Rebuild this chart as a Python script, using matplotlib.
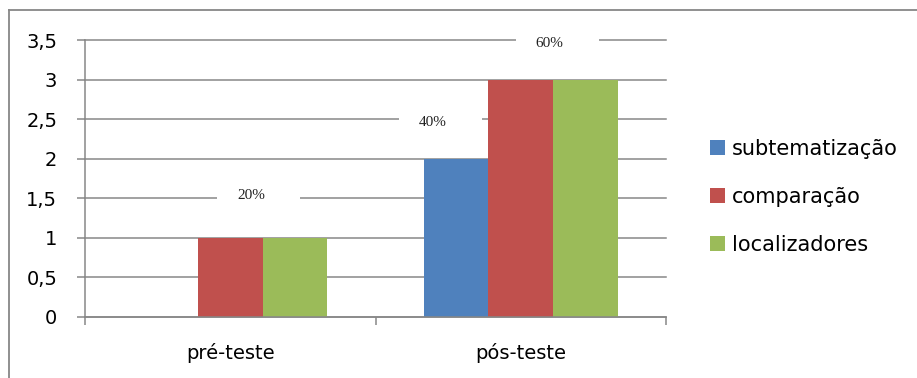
import matplotlib
matplotlib.use("Agg")
import matplotlib.pyplot as plt
from matplotlib.patches import Rectangle
from matplotlib.lines import Line2D
import numpy as np

categories = ["pré-teste", "pós-teste"]
series_names = ["subtematização", "comparação", "localizadores"]
subtematizacao = [0, 2]
comparacao = [1, 3]
localizadores = [1, 3]
series_values = [subtematizacao, comparacao, localizadores]
colors = ["#4F81BD", "#C0504D", "#9BBB59"]

y_ticks = [0, 0.5, 1, 1.5, 2, 2.5, 3, 3.5]
y_tick_labels = ["0", "0,5", "1", "1,5", "2", "2,5", "3", "3,5"]

# percentage notes and where they sit (data coordinates)
note_texts = ["20%", "40%", "60%"]
note_x = [0.072, 0.697, 1.10]
note_y = [1.53, 2.455, 3.46]

W, H = 917, 378
fig = plt.figure(figsize=(W / 100, H / 100), dpi=100)
plt.rcParams["font.family"] = ["DejaVu Sans"]

ax = fig.add_axes([85 / W, 1 - 317 / H, 581 / W, 277 / H])

n = len(series_values)
bar_w = 1 / 4.5
x = np.arange(len(categories))
for i, (vals, name, c) in enumerate(zip(series_values, series_names, colors)):
    offs = (i - (n - 1) / 2) * bar_w
    ax.bar(x + offs, vals, width=bar_w, color=c, label=name, zorder=3)

ax.set_xlim(-0.5, len(categories) - 0.5)
ax.set_ylim(0, 3.5)
ax.set_yticks(y_ticks)
ax.set_yticklabels(y_tick_labels, fontsize=14, color="black")
ax.yaxis.grid(True, color="#878787", linewidth=1.1, zorder=0)
ax.set_axisbelow(True)
for gl in ax.get_ygridlines():
    gl.set_clip_on(False)

# category labels at centres, tick marks at group boundaries
ax.set_xticks(x)
ax.set_xticklabels(categories, fontsize=14, color="black")
ax.set_xticks(np.arange(len(categories) + 1) - 0.5, minor=True)
ax.tick_params(axis="x", which="major", length=0, pad=19)
ax.tick_params(axis="x", which="minor", length=6, width=1.1, color="#878787")
ax.tick_params(axis="y", length=6, width=1.1, color="#878787", pad=14)

for side in ["top", "right"]:
    ax.spines[side].set_visible(False)
for side in ["left", "bottom"]:
    ax.spines[side].set_color("#878787")
    ax.spines[side].set_linewidth(1.1)
    ax.spines[side].set_zorder(4)

# percentage notes on white boxes that hide the gridline behind them
px_x = 290.0
px_y = 277 / 3.5
box_w = 83 / px_x
box_h = 26 / px_y
for t, nx, ny in zip(note_texts, note_x, note_y):
    cx = nx + 7.5 / px_x
    ax.add_patch(Rectangle((cx - box_w / 2, ny - box_h / 2), box_w, box_h,
                           facecolor="white", edgecolor="none", zorder=2,
                           clip_on=False))
    ax.text(nx, ny, t, ha="center", va="center", fontsize=11,
            family=["Liberation Serif"], color="#222222", zorder=5)

fig.legend(loc="center left", bbox_to_anchor=(710 / W, 1 - 197 / H),
           frameon=False, fontsize=15, handlelength=0.72, handleheight=0.72,
           handletextpad=0.34, labelspacing=1.35, borderpad=0, borderaxespad=0)

# outer chart frame (top and left edges)
fig.add_artist(Line2D([9 / W, 1], [1 - 10 / H, 1 - 10 / H], color="#878787",
                      linewidth=1.3, transform=fig.transFigure))
fig.add_artist(Line2D([9 / W, 9 / W], [0, 1 - 10 / H], color="#878787",
                      linewidth=1.3, transform=fig.transFigure))

fig.savefig("out.png", dpi=100, facecolor="white")
